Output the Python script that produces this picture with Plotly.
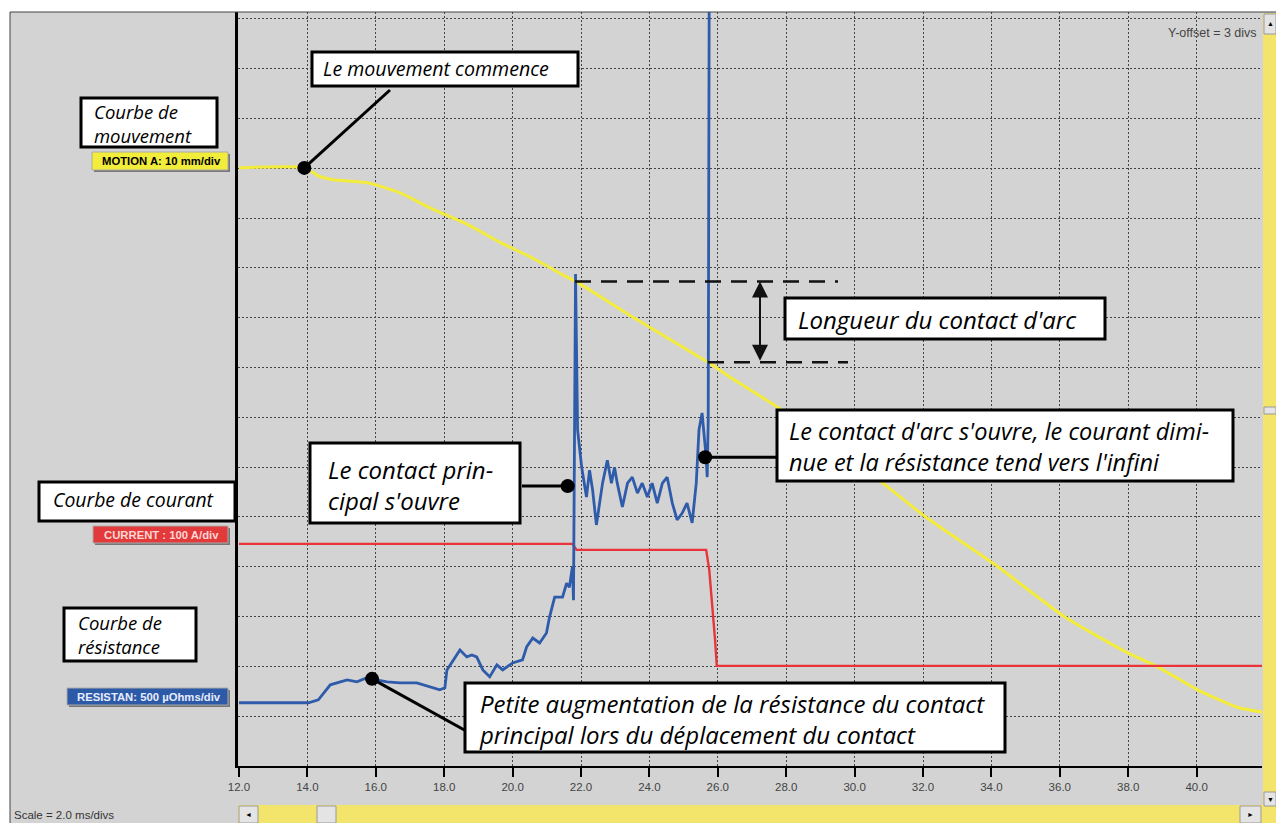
import plotly.graph_objects as go
import numpy as np

# ---------------- DATA (time in ms, amplitude in screen divisions) ----------------
motion_t = [12.0, 13.91, 14.32, 14.76, 15.75, 16.71, 17.67, 18.66, 19.62, 20.58, 21.58, 21.87,
            23.50, 25.84, 26.42, 27.87, 30.71, 32.08, 34.11, 36.15, 37.99, 38.86, 40.03, 41.19, 41.95]
motion_div = [12.01, 12.01, 11.85, 11.77, 11.71, 11.51, 11.18, 10.88, 10.52, 10.20, 9.82, 9.72,
              9.02, 8.05, 7.78, 7.15, 5.74, 5.00, 4.04, 2.99, 2.27, 1.99, 1.53, 1.18, 1.08]

current_t = [12.0, 21.75, 21.87, 25.66, 25.75, 25.83, 25.92, 25.97, 41.95]
current_div = [4.46, 4.46, 4.34, 4.34, 3.94, 3.33, 2.53, 2.01, 2.01]

resist_t = [12.0, 14.03, 14.32, 14.67, 15.16, 15.45, 15.72, 16.01, 16.33, 16.71, 17.20, 17.87,
            18.02, 18.08, 18.46, 18.66, 18.81, 18.95, 19.13, 19.33, 19.54, 19.71, 20.00, 20.29,
            20.41, 20.59, 20.79, 20.99, 21.08, 21.23, 21.46, 21.58, 21.66, 21.75, 21.78, 21.84,
            21.90, 22.02, 22.16, 22.25, 22.34, 22.45, 22.54, 22.63, 22.77, 22.89, 22.98, 23.06,
            23.21, 23.36, 23.50, 23.65, 23.79, 23.94, 24.08, 24.23, 24.38, 24.52, 24.67, 24.81,
            24.96, 25.10, 25.25, 25.37, 25.45, 25.54, 25.66, 25.69, 25.72, 25.75]
resist_div = [1.27, 1.27, 1.33, 1.63, 1.73, 1.69, 1.77, 1.73, 1.69, 1.67, 1.67, 1.53,
              1.57, 1.93, 2.33, 2.19, 2.23, 2.19, 1.93, 1.79, 2.03, 1.93, 2.07, 2.13,
              2.39, 2.57, 2.47, 2.67, 2.99, 3.39, 3.39, 3.67, 3.59, 4.00, 3.33, 9.88,
              6.75, 6.00, 5.40, 5.94, 5.54, 4.84, 5.28, 5.68, 6.14, 5.68, 6.00, 5.68,
              5.20, 5.68, 5.80, 5.48, 5.68, 5.40, 5.68, 5.28, 5.68, 5.80, 5.28, 4.94,
              5.08, 5.28, 4.88, 5.68, 6.75, 7.09, 6.20, 5.80, 6.95, 16.0]

x_ticks = [12.0, 14.0, 16.0, 18.0, 20.0, 22.0, 24.0, 26.0, 28.0, 30.0, 32.0, 34.0, 36.0, 38.0, 40.0]

# annotation anchor points (ms, div)
dot_motion_start = (13.91, 12.01)
dot_main_open = (21.61, 5.62)
dot_arc_open = (25.63, 6.20)
dot_small_rise = (15.89, 1.75)

# arc-contact length: motion values at the two spike instants
t_main_spike = 21.84
t_arc_spike = 25.70

# ---------------- geometry helpers ----------------
FIG_W, FIG_H = 1276, 823
L, R, T, B = 238, 14, 12, 57
PW = FIG_W - L - R
PH = FIG_H - T - B
X_SCALE = 34.2          # px per ms
Y_SCALE = PH / 15.14    # px per div
x0_range = 12.0 - 1.0 / X_SCALE
x_range = [x0_range, x0_range + PW / X_SCALE]
y_range = [0, 15.14]


def px(x):
    return (x - L) / PW


def py(y):
    return (T + PH - y) / PH


def dx(xpix):  # pixel -> data x
    return x_range[0] + (xpix - L) / X_SCALE


def dy(ypix):  # pixel -> data y
    return (T + PH - ypix) / Y_SCALE


BG = "#d3d3d3"
YEL = "#f3ec3a"
RED = "#e8343a"
BLUE = "#2f5bab"
SCROLL = "#f3e46c"
FONT_IT = "Open Sans"

fig = go.Figure()

fig.add_trace(go.Scatter(x=motion_t, y=motion_div, mode="lines",
                         line=dict(color=YEL, width=3, shape="spline", smoothing=0.6),
                         hoverinfo="skip", showlegend=False))
fig.add_trace(go.Scatter(x=current_t, y=current_div, mode="lines",
                         line=dict(color=RED, width=2.4), hoverinfo="skip", showlegend=False))
fig.add_trace(go.Scatter(x=resist_t, y=resist_div, mode="lines",
                         line=dict(color=BLUE, width=2.8), hoverinfo="skip", showlegend=False))

shapes = []
annotations = []

# background frame
shapes.append(dict(type="rect", xref="paper", yref="paper", x0=px(10), x1=px(1300), y0=py(12), y1=py(840),
                   fillcolor=BG, line=dict(width=0), layer="below"))
shapes.append(dict(type="line", xref="paper", yref="paper", x0=px(10), x1=px(1276), y0=py(12), y1=py(12),
                   line=dict(color="#444", width=1), layer="above"))
shapes.append(dict(type="line", xref="paper", yref="paper", x0=px(10), x1=px(10), y0=py(12), y1=py(823),
                   line=dict(color="#444", width=1), layer="above"))

# scrollbars
shapes.append(dict(type="rect", xref="paper", yref="paper", x0=px(1263), x1=px(1277), y0=py(13), y1=py(824),
                   fillcolor=SCROLL, line=dict(width=0), layer="above"))
shapes.append(dict(type="rect", xref="paper", yref="paper", x0=px(238), x1=px(1263), y0=py(805), y1=py(824),
                   fillcolor=SCROLL, line=dict(width=0), layer="above"))
for (a, b, c, d) in [(1264, 14, 1276, 34), (1264, 407, 1276, 414), (1264, 792, 1276, 806),
                     (239, 806, 258, 823), (317, 806, 336, 823), (1240, 806, 1261, 823)]:
    shapes.append(dict(type="rect", xref="paper", yref="paper", x0=px(a), x1=px(c), y0=py(b), y1=py(d),
                       fillcolor="#e4e4e4", line=dict(color="#999", width=1), layer="above"))
for (txt, xx, yy) in [("▲", 1270, 24), ("▼", 1270, 799), ("◄", 248, 814), ("►", 1250, 814)]:
    annotations.append(dict(text=txt, xref="paper", yref="paper", x=px(xx), y=py(yy), showarrow=False,
                            font=dict(size=7, color="#000"), xanchor="center", yanchor="middle"))

# dashed lines for arc length
y_top = float(np.interp(t_main_spike, motion_t, motion_div))
y_bot = float(np.interp(t_arc_spike, motion_t, motion_div))
shapes.append(dict(type="line", xref="x", yref="y", x0=dx(575), x1=dx(838), y0=y_top, y1=y_top,
                   line=dict(color="#111", width=2.5, dash="16px,10px"), layer="above"))
shapes.append(dict(type="line", xref="x", yref="y", x0=dx(708), x1=dx(848), y0=y_bot, y1=y_bot,
                   line=dict(color="#111", width=2.5, dash="16px,10px"), layer="above"))
annotations.append(dict(x=dx(760), y=y_top, ax=dx(760), ay=y_bot, xref="x", yref="y", axref="x", ayref="y",
                        text="", showarrow=True, arrowhead=2, arrowside="end+start", arrowsize=1.6,
                        arrowwidth=2, arrowcolor="#111"))

# connectors
conns = [(dot_motion_start, (dx(390), dy(90))),
         (dot_main_open, (dx(522), dot_main_open[1])),
         (dot_arc_open, (dx(779), dot_arc_open[1])),
         (dot_small_rise, (dx(468), dy(732)))]
for (p0, p1) in conns:
    shapes.append(dict(type="line", xref="x", yref="y", x0=p0[0], y0=p0[1], x1=p1[0], y1=p1[1],
                       line=dict(color="#000", width=3), layer="above"))

# white annotation boxes
boxes = [(312, 52, 578, 86), (81, 98, 217, 147), (785, 298, 1105, 339), (777, 410, 1233, 481),
         (310, 443, 520, 523), (39, 482, 235, 521), (64, 608, 196, 661), (465, 683, 1005, 752)]
for (a, b, c, d) in boxes:
    shapes.append(dict(type="rect", xref="paper", yref="paper", x0=px(a), x1=px(c), y0=py(b), y1=py(d),
                       fillcolor="white", line=dict(color="#000", width=3), layer="above"))

# (text, left x, vertical centre y, font size)
texts = [("Le mouvement commence", 322, 69, 19.6),
         ("Courbe de<br>mouvement", 93, 123, 18.5),
         ("Longueur du contact d'arc", 797, 319, 24),
         ("Le contact d'arc s'ouvre, le courant dimi-<br>nue et la résistance tend vers l'infini", 788, 446, 23.5),
         ("Le contact prin-<br>cipal s'ouvre", 327, 485, 24),
         ("Courbe de courant", 52, 500, 19.4),
         ("Courbe de<br>résistance", 77, 634, 18.5),
         ("Petite augmentation de la résistance du contact<br>principal lors du déplacement du contact",
          478, 719, 24)]
for (t, xx, yy, fs) in texts:
    annotations.append(dict(text=t, xref="paper", yref="paper", x=px(xx), y=py(yy), showarrow=False,
                            xanchor="left", yanchor="middle", align="left", borderpad=0,
                            font=dict(family=FONT_IT, size=fs, color="#000", style="italic")))

# channel badges
badges = [("MOTION A: 10 mm/div", 92, 152, 228, 170, "#f2ec3a", "#000"),
          ("CURRENT : 100 A/div", 93, 526, 228, 543, "#e23a3a", "#ffd6d6"),
          ("RESISTAN: 500 µOhms/div", 67, 688, 228, 705, "#2d5aa6", "#e6ecff")]
for (t, a, b, c, d, fc, tc) in badges:
    shapes.append(dict(type="rect", xref="paper", yref="paper", x0=px(a + 2), x1=px(c + 2), y0=py(b + 2),
                       y1=py(d + 2), fillcolor="#777", line=dict(width=0), layer="above"))
    shapes.append(dict(type="rect", xref="paper", yref="paper", x0=px(a), x1=px(c), y0=py(b), y1=py(d),
                       fillcolor=fc, line=dict(color="#aaa", width=1), layer="above"))
    annotations.append(dict(text="<b>" + t + "</b>", xref="paper", yref="paper", x=px((a + c) / 2 + 1),
                            y=py((b + d) / 2), showarrow=False, xanchor="center", yanchor="middle",
                            font=dict(family="Liberation Sans", size=11.3, color=tc)))

# misc texts
annotations.append(dict(text="Y-offset = 3 divs", xref="paper", yref="paper", x=px(1259), y=py(33),
                        showarrow=False, xanchor="right", yanchor="middle",
                        font=dict(family="Liberation Sans", size=12.5, color="#444")))
annotations.append(dict(text="Scale = 2.0 ms/divs", xref="paper", yref="paper", x=px(12), y=py(815),
                        showarrow=False, xanchor="left", yanchor="middle",
                        font=dict(family="Liberation Sans", size=11.5, color="#333")))

# dots
dots = [dot_motion_start, dot_main_open, dot_arc_open, dot_small_rise]
fig.add_trace(go.Scatter(x=[d[0] for d in dots], y=[d[1] for d in dots], mode="markers",
                         marker=dict(color="#000", size=14), hoverinfo="skip", showlegend=False,
                         cliponaxis=False))

fig.update_layout(
    width=FIG_W, height=FIG_H,
    margin=dict(l=L, r=R, t=T, b=B, pad=0),
    paper_bgcolor="white", plot_bgcolor=BG,
    shapes=shapes, annotations=annotations,
    xaxis=dict(range=x_range, tickvals=x_ticks, tickformat=".1f", showgrid=True,
               gridcolor="#444", griddash="2px,2px", gridwidth=1, zeroline=False,
               showline=True, linecolor="#000", linewidth=1.5,
               ticks="outside", ticklen=9, tickwidth=2, tickcolor="#000",
               tickfont=dict(family="Liberation Sans", size=11.5, color="#444")),
    yaxis=dict(range=y_range, dtick=1, tick0=0, showticklabels=False, showgrid=True,
               gridcolor="#444", griddash="2px,2px", gridwidth=1, zeroline=False,
               showline=True, linecolor="#000", linewidth=3, ticks=""),
    showlegend=False,
)

fig.write_html("out.html")
